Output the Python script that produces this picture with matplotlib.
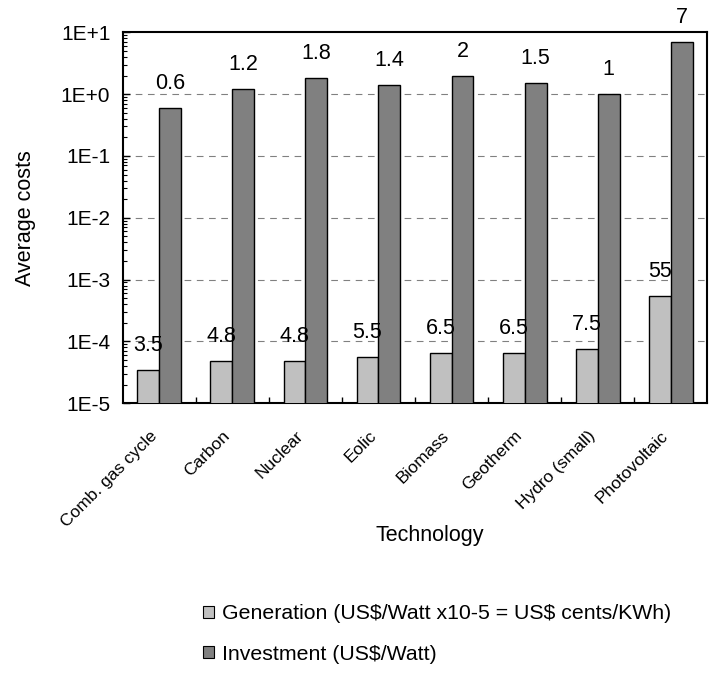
import matplotlib
matplotlib.use("Agg")
import matplotlib.pyplot as plt
import matplotlib.transforms as mtransforms
import numpy as np
from matplotlib.ticker import LogLocator, FixedLocator, NullFormatter
from matplotlib.patches import Patch

plt.rcParams['font.family'] = ['Liberation Sans', 'DejaVu Sans']

technologies = ["Comb. gas cycle", "Carbon", "Nuclear", "Eolic", "Biomass",
                "Geotherm", "Hydro (small)", "Photovoltaic"]
generation_labels = [3.5, 4.8, 4.8, 5.5, 6.5, 6.5, 7.5, 55]
generation = [v * 1e-5 for v in generation_labels]
investment = [0.6, 1.2, 1.8, 1.4, 2, 1.5, 1, 7]
investment_labels = ["0.6", "1.2", "1.8", "1.4", "2", "1.5", "1", "7"]
gen_label_text = ["3.5", "4.8", "4.8", "5.5", "6.5", "6.5", "7.5", "55"]
ytick_vals = [1e-5, 1e-4, 1e-3, 1e-2, 1e-1, 1e0, 1e1]
ytick_labels = ["1E-5", "1E-4", "1E-3", "1E-2", "1E-1", "1E+0", "1E+1"]
legend_labels = [r"Generation (US\$/Watt x10-5 = US\$ cents/KWh)", r"Investment (US\$/Watt)"]

fig = plt.figure(figsize=(7.18, 6.73), dpi=100)
ax = fig.add_axes([0.171, 0.401, 0.814, 0.551])

x = np.arange(len(technologies))
w = 0.30
ax.bar(x - w / 2, generation, width=w, color="#c0c0c0", edgecolor="black", linewidth=1.0, zorder=3)
ax.bar(x + w / 2, investment, width=w, color="#808080", edgecolor="black", linewidth=1.0, zorder=3)

ax.set_yscale("log")
ax.set_ylim(1e-5, 1e1)
ax.set_xlim(-0.5, len(technologies) - 0.5)
ax.yaxis.set_major_locator(FixedLocator(ytick_vals))
ax.set_yticklabels(ytick_labels, fontsize=15)
ax.yaxis.set_minor_locator(LogLocator(base=10, subs=np.arange(2, 10)))
ax.yaxis.set_minor_formatter(NullFormatter())
ax.tick_params(axis='y', which='major', direction='in', length=5, width=1, pad=9)
ax.tick_params(axis='y', which='minor', direction='in', length=3, width=0.8)
for yv in ytick_vals[1:-1]:
    ax.axhline(yv, color="#808080", linestyle=(0, (6, 5)), linewidth=0.8, zorder=1)

ax.set_xticks(x)
ax.set_xticklabels(technologies, rotation=45, ha="right", rotation_mode="anchor", fontsize=12.5)
ax.set_xticks(x[:-1] + 0.5, minor=True)
ax.tick_params(axis='x', which='major', length=0, pad=18)
ax.tick_params(axis='x', which='minor', direction='in', length=4, width=1)
shift = mtransforms.ScaledTranslation(-10 / 100, 0, fig.dpi_scale_trans)
for lbl in ax.get_xticklabels():
    lbl.set_transform(lbl.get_transform() + shift)

for sp in ax.spines.values():
    sp.set_linewidth(1.5)

for i in range(len(technologies)):
    ax.annotate(gen_label_text[i], (x[i] - w / 2, generation[i]), xytext=(0, 10),
                textcoords="offset points", ha="center", va="bottom", fontsize=15.5)
    ax.annotate(investment_labels[i], (x[i] + w / 2, investment[i]), xytext=(0, 10),
                textcoords="offset points", ha="center", va="bottom", fontsize=15.5)

ax.set_ylabel("Average costs", fontsize=15.5, labelpad=18)
ax.set_xlabel("Technology", fontsize=15.5)
ax.xaxis.set_label_coords(0.526, -0.33)

handles = [Patch(facecolor="#c0c0c0", edgecolor="black", linewidth=0.8),
           Patch(facecolor="#808080", edgecolor="black", linewidth=0.8)]
fig.legend(handles, legend_labels,
           loc="upper left", bbox_to_anchor=(0.283, 0.102), frameon=False, fontsize=15.3,
           handlelength=0.5, handleheight=0.5, handletextpad=0.4, labelspacing=1.0,
           borderaxespad=0, borderpad=0)

fig.savefig("out.png", dpi=100)
